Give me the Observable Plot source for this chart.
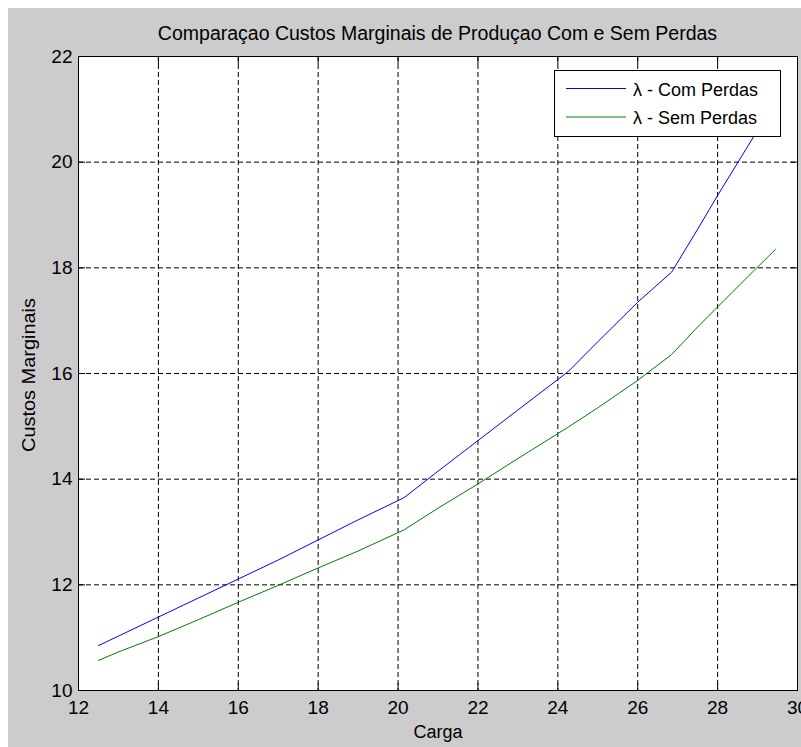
<!DOCTYPE html>
<html><head><meta charset="utf-8">
<script src="https://cdn.jsdelivr.net/npm/d3@7"></script>
<script src="https://cdn.jsdelivr.net/npm/@observablehq/plot@0.6"></script>
<style>
html,body{margin:0;padding:0;background:#fff;}
#fig{position:relative;width:801px;height:747px;overflow:hidden;font-family:"Liberation Sans",Arial,sans-serif;}
#bg{position:absolute;left:8px;top:8px;right:0;bottom:0;background:#cccccc;}
#title{position:absolute;left:78px;width:719px;top:24px;text-align:center;font-size:19.5px;line-height:19px;color:#000;white-space:nowrap;}
#chart{position:absolute;left:0;top:0;}
</style>
</head><body>
<div id="fig"><div id="bg"></div><div id="chart"></div><div id="title"></div></div>
<script>
const titleText = "Comparaçao Custos Marginais de Produçao Com e Sem Perdas";
const xLabel = "Carga";
const yLabel = "Custos Marginais";
const carga = [12.5, 13, 14, 15, 16, 17, 18, 19, 20.15, 21, 22, 23, 24.25, 25, 26, 26.85, 27.5, 28, 28.9, 29.45];
const comPerdas = [10.85, 11.03, 11.39, 11.75, 12.11, 12.47, 12.85, 13.23, 13.65, 14.15, 14.73, 15.31, 16.03, 16.6, 17.35, 17.92, 18.73, 19.37, 20.48, 21.2];
const semPerdas = [10.57, 10.73, 11.02, 11.34, 11.67, 11.99, 12.32, 12.64, 13.04, 13.45, 13.91, 14.39, 14.98, 15.35, 15.87, 16.36, 16.88, 17.26, 17.94, 18.35];
const seriesNames = ["λ - Com Perdas", "λ - Sem Perdas"];
const seriesColors = ["#0000ff", "#008000"];
const xTicks = [12, 14, 16, 18, 20, 22, 24, 26, 28, 30];
const yTicks = [10, 12, 14, 16, 18, 20, 22];

document.getElementById("title").textContent = titleText;

const data = [];
carga.forEach((c, i) => {
  data.push({carga: c, custo: comPerdas[i], serie: seriesNames[0]});
});
carga.forEach((c, i) => {
  data.push({carga: c, custo: semPerdas[i], serie: seriesNames[1]});
});

const empty = () => "";
const intFmt = d3.format("d");
const chart = Plot.plot({
  width: 801, height: 747,
  marginLeft: 78, marginRight: 4, marginTop: 56, marginBottom: 57,
  style: {background: "transparent", color: "black", fontFamily: '"Liberation Sans", Arial, sans-serif'},
  x: {domain: [12, 30]},
  y: {domain: [10, 22]},
  color: {domain: seriesNames, range: seriesColors},
  marks: [
    Plot.frame({fill: "white"}),
    Plot.gridX(xTicks.slice(1, -1), {stroke: "black", strokeOpacity: 1, strokeDasharray: "5,3"}),
    Plot.gridY(yTicks.slice(1, -1), {stroke: "black", strokeOpacity: 1, strokeDasharray: "5,3"}),
    Plot.line(data, {x: "carga", y: "custo", z: "serie", stroke: "serie", strokeWidth: 1}),
    Plot.axisX(xTicks, {anchor: "bottom", tickSize: 0, tickPadding: 10, fontSize: 19, tickFormat: intFmt, label: null}),
    Plot.axisX(xTicks, {anchor: "bottom", tickSize: 7, dy: -7, tickFormat: empty, label: null}),
    Plot.axisX(xTicks, {anchor: "top", tickSize: 7, dy: 7, tickFormat: empty, label: null}),
    Plot.axisY(yTicks, {anchor: "left", tickSize: 0, tickPadding: 6, fontSize: 19, tickFormat: intFmt, label: null}),
    Plot.axisY(yTicks, {anchor: "left", tickSize: 7, dx: 7, tickFormat: empty, label: null}),
    Plot.axisY(yTicks, {anchor: "right", tickSize: 7, dx: -7, tickFormat: empty, label: null}),
    Plot.frame({stroke: "black"}),
    Plot.text([xLabel], {frameAnchor: "bottom", dy: 47, fontSize: 18})
  ]
});
document.getElementById("chart").appendChild(chart);

const svg = d3.select(chart);
// y-axis label
svg.append("text")
  .attr("transform", "translate(35,375) rotate(-90)")
  .attr("text-anchor", "middle")
  .attr("font-size", 18)
  .attr("textLength", 154)
  .attr("lengthAdjust", "spacingAndGlyphs")
  .attr("fill", "black")
  .text(yLabel);

// legend
const lg = svg.append("g").attr("font-size", 18).attr("text-anchor", "start")
  .attr("font-family", '"Liberation Sans", Arial, sans-serif');
lg.append("rect").attr("x", 554.5).attr("y", 70.5).attr("width", 226).attr("height", 66)
  .attr("fill", "white").attr("stroke", "black");
seriesNames.forEach((name, i) => {
  const yy = 88.5 + i * 28.5;
  lg.append("line").attr("x1", 566).attr("x2", 626).attr("y1", yy).attr("y2", yy)
    .attr("stroke", seriesColors[i]).attr("stroke-width", 1);
  lg.append("text").attr("x", 633).attr("y", yy + 7).attr("fill", "black").text(name);
});
</script>
</body></html>
